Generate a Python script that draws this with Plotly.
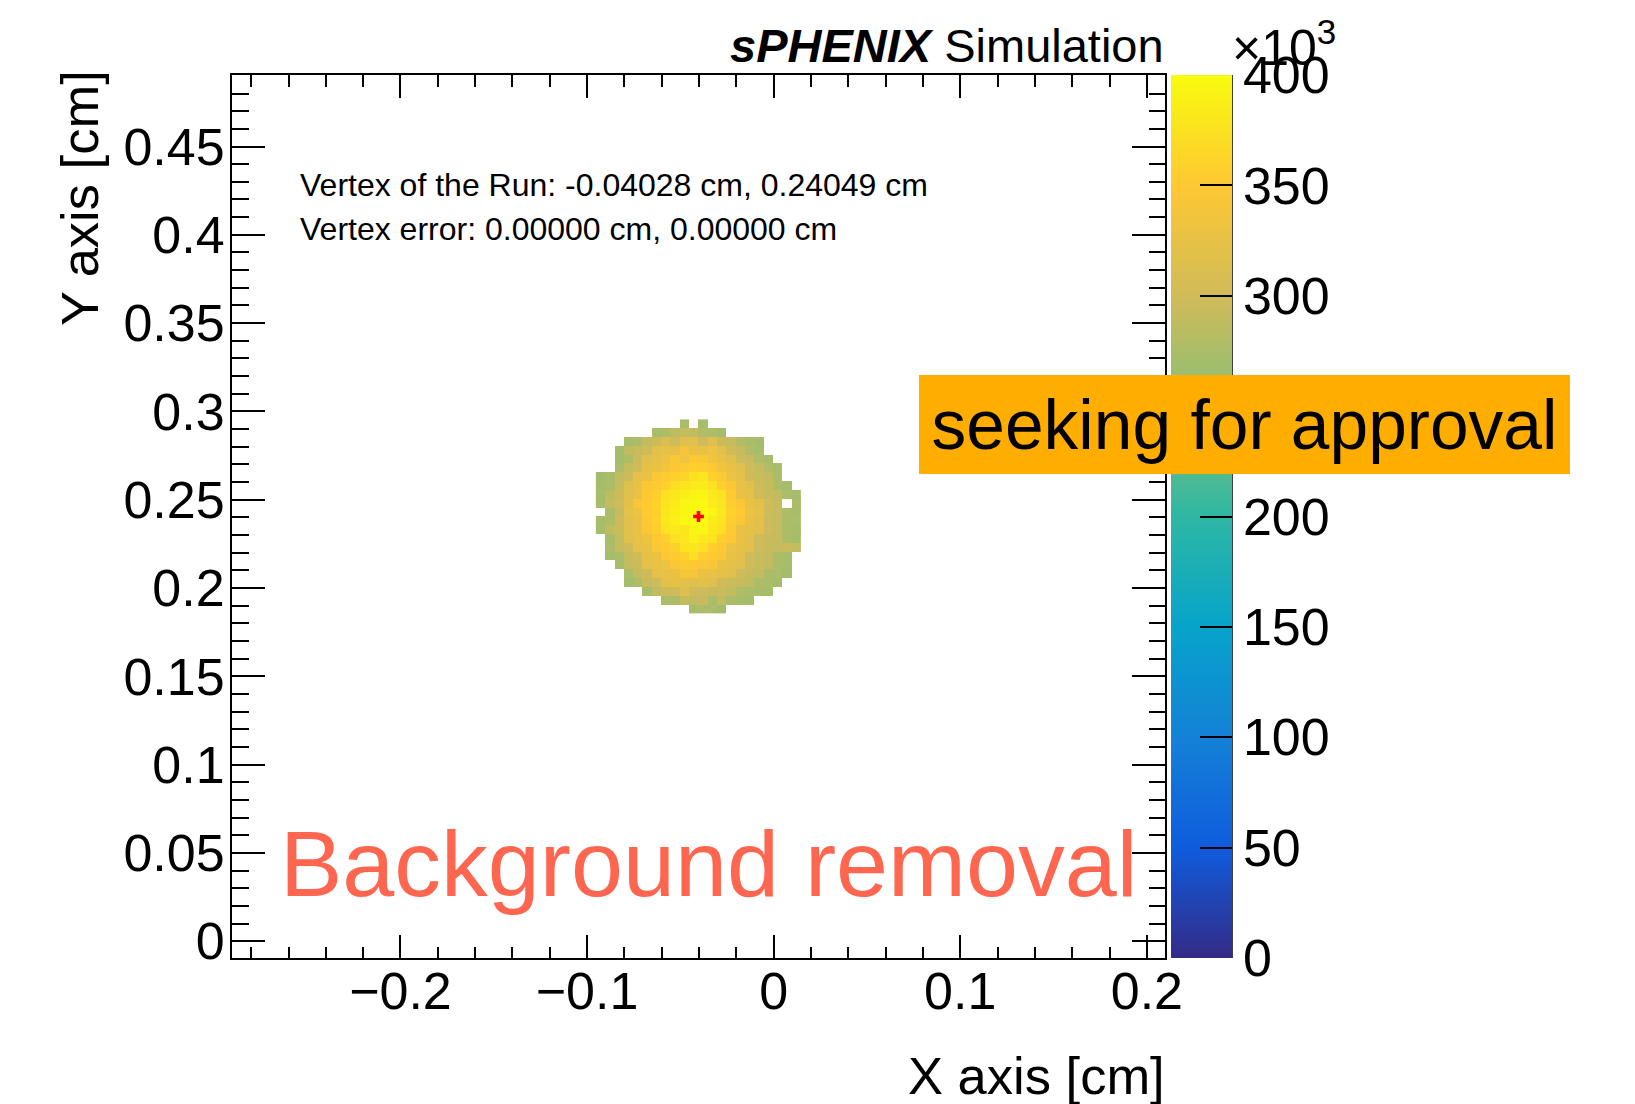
import plotly.graph_objects as go

# Reconstructed beam-spot vertex and histogram binning (cm)
VERTEX_X = -0.04028
VERTEX_Y = 0.24049
VERTEX_ERR_X = 0.0
VERTEX_ERR_Y = 0.0
HALF_WIDTH = 0.25
BIN = 0.005
FIRST_COL = -11   # bin offset of the first stored column from the vertex
FIRST_ROW = -11   # bin offset of the lowest stored row from the vertex

# Counts per bin in units of 10^3, rows listed from top to bottom; 0 = removed bin
counts_k = [
    [0, 0, 0, 0, 0, 0, 0, 0, 0, 274, 0, 271, 0, 0, 0, 0, 0, 0, 0, 0, 0, 0],
    [0, 0, 0, 0, 0, 0, 272, 276, 288, 292, 290, 279, 276, 270, 0, 0, 0, 0, 0, 0, 0, 0],
    [0, 0, 0, 270, 275, 290, 296, 312, 298, 315, 318, 300, 316, 297, 292, 278, 273, 270, 0, 0, 0, 0],
    [0, 0, 268, 288, 294, 298, 318, 322, 324, 340, 328, 326, 330, 320, 300, 294, 278, 272, 0, 0, 0, 0],
    [0, 0, 270, 276, 296, 318, 324, 330, 346, 334, 350, 346, 334, 328, 320, 298, 294, 278, 272, 0, 0, 0],
    [0, 0, 274, 292, 298, 322, 328, 336, 348, 352, 358, 356, 350, 334, 328, 318, 298, 292, 278, 271, 0, 0],
    [268, 272, 290, 296, 324, 328, 346, 352, 358, 362, 374, 378, 358, 350, 330, 322, 300, 296, 290, 274, 0, 0],
    [270, 276, 294, 316, 326, 348, 352, 358, 372, 378, 382, 384, 376, 356, 348, 326, 320, 298, 292, 276, 270, 0],
    [272, 288, 296, 318, 328, 350, 356, 374, 380, 386, 392, 395, 382, 376, 352, 328, 322, 300, 294, 290, 274, 270],
    [270, 290, 298, 320, 344, 352, 360, 376, 384, 394, 397, 398, 384, 378, 356, 348, 328, 320, 298, 292, 0, 272],
    [0, 274, 294, 322, 330, 352, 358, 378, 386, 396, 399, 400, 394, 382, 358, 350, 330, 322, 298, 294, 276, 272],
    [272, 276, 296, 320, 328, 350, 360, 380, 388, 397, 400, 399, 384, 378, 356, 348, 328, 320, 296, 292, 276, 274],
    [270, 290, 296, 318, 328, 348, 356, 376, 382, 378, 392, 394, 380, 374, 352, 328, 322, 318, 298, 292, 276, 272],
    [0, 272, 292, 318, 326, 332, 350, 356, 374, 380, 390, 382, 376, 356, 350, 328, 320, 298, 294, 292, 276, 270],
    [0, 274, 294, 298, 322, 328, 348, 352, 358, 376, 378, 374, 356, 350, 330, 324, 320, 298, 294, 292, 296, 292],
    [0, 270, 276, 294, 298, 324, 328, 348, 352, 358, 372, 356, 350, 346, 328, 320, 298, 294, 290, 276, 272, 0],
    [0, 0, 272, 292, 296, 322, 326, 330, 348, 352, 350, 348, 344, 328, 322, 318, 298, 294, 290, 276, 272, 0],
    [0, 0, 0, 274, 292, 296, 322, 326, 328, 344, 342, 328, 326, 322, 318, 298, 294, 290, 276, 274, 270, 0],
    [0, 0, 0, 270, 276, 294, 298, 318, 322, 320, 316, 320, 316, 300, 296, 294, 290, 276, 274, 270, 0, 0],
    [0, 0, 0, 0, 0, 272, 290, 296, 298, 316, 300, 298, 294, 296, 290, 278, 274, 272, 270, 0, 0, 0],
    [0, 0, 0, 0, 0, 0, 0, 274, 276, 292, 290, 294, 276, 290, 274, 272, 270, 0, 0, 0, 0, 0],
    [0, 0, 0, 0, 0, 0, 0, 0, 0, 0, 272, 276, 274, 270, 0, 0, 0, 0, 0, 0, 0, 0],
]

z_ticks_k = [0, 50, 100, 150, 200, 250, 300, 350, 400]
Z_MAX_K = 400

# ROOT kBird palette
bird_stops = [0.0, 0.125, 0.25, 0.375, 0.5, 0.625, 0.75, 0.875, 1.0]
bird_r = [0.2082, 0.0592, 0.0780, 0.0232, 0.1802, 0.5301, 0.8186, 0.9956, 0.9764]
bird_g = [0.1664, 0.3599, 0.5041, 0.6419, 0.7178, 0.7492, 0.7328, 0.7862, 0.9832]
bird_b = [0.5293, 0.8684, 0.8385, 0.7914, 0.6425, 0.4662, 0.3499, 0.1968, 0.0539]
bird = [
    [s, f"rgb({round(r * 255)},{round(g * 255)},{round(b * 255)})"]
    for s, r, g, b in zip(bird_stops, bird_r, bird_g, bird_b)
]

FONT = "Liberation Sans, Arial, Helvetica, sans-serif"
TICK_SIZE = 52

# canvas geometry (pixels)
W_PX, H_PX = 1635, 1104
L, R, T, B = 232, 470, 75, 146
PW = W_PX - L - R
PH = H_PX - T - B


def fx(px):
    return (px - L) / PW


def fy(py):
    return (H_PX - B - py) / PH


z_rows = [[v * 1000 if v > 0 else None for v in row] for row in reversed(counts_k)]

fig = go.Figure()

fig.add_trace(go.Heatmap(
    z=z_rows,
    x0=VERTEX_X + (FIRST_COL + 0.5) * BIN, dx=BIN,
    y0=VERTEX_Y + (FIRST_ROW + 0.5) * BIN, dy=BIN,
    zmin=0, zmax=Z_MAX_K * 1000,
    colorscale=bird,
    hoverongaps=False,
    colorbar=dict(
        x=fx(1171), xanchor="left", xpad=0,
        y=0.5, yanchor="middle", len=1, lenmode="fraction", ypad=0,
        thickness=61, thicknessmode="pixels",
        outlinewidth=0,
        ticks="inside", ticklen=32, tickwidth=1.5, tickcolor="black",
        tickvals=[v * 1000 for v in z_ticks_k],
        ticktext=[str(v) for v in z_ticks_k],
        tickfont=dict(family=FONT, size=TICK_SIZE, color="black"),
    ),
))

fig.add_trace(go.Scatter(
    x=[VERTEX_X], y=[VERTEX_Y],
    mode="markers",
    marker=dict(symbol="cross", size=9, color="red"),
    showlegend=False,
))

axis_common = dict(
    showline=True, linecolor="black", linewidth=2, mirror="ticks",
    showgrid=False, zeroline=False,
    ticks="inside", tickcolor="black", tickwidth=1.5,
    tickfont=dict(family=FONT, size=TICK_SIZE, color="black"),
)

fig.update_xaxes(
    range=[VERTEX_X - HALF_WIDTH, VERTEX_X + HALF_WIDTH],
    tick0=0, dtick=0.1, ticklen=23, ticklabelstandoff=-13,
    minor=dict(dtick=0.02, ticks="inside", ticklen=11.5, tickwidth=1.5,
               tickcolor="black", showgrid=False),
    **axis_common,
)
fig.update_yaxes(
    range=[VERTEX_Y - HALF_WIDTH, VERTEX_Y + HALF_WIDTH],
    tick0=0, dtick=0.05, ticklen=33, ticklabelstandoff=-5,
    minor=dict(dtick=0.01, ticks="inside", ticklen=16.5, tickwidth=1.5,
               tickcolor="black", showgrid=False),
    **axis_common,
)

annotations = [
    dict(text="<b><i>sPHENIX</i></b> Simulation", x=fx(1166), y=fy(46),
         xanchor="right", yanchor="middle", font=dict(size=47)),
    dict(text=f"Vertex of the Run: {VERTEX_X:.5f} cm, {VERTEX_Y:.5f} cm",
         x=fx(298), y=fy(185), xanchor="left", yanchor="middle", font=dict(size=32)),
    dict(text=f"Vertex error: {VERTEX_ERR_X:.5f} cm, {VERTEX_ERR_Y:.5f} cm",
         x=fx(298), y=fy(229), xanchor="left", yanchor="middle", font=dict(size=32)),
    dict(text="Background removal", x=fx(278), y=fy(863),
         xanchor="left", yanchor="middle", font=dict(size=93.5, color="#ff6650")),
    dict(text="X axis [cm]", x=fx(1167), y=fy(1075),
         xanchor="right", yanchor="middle", font=dict(size=52.5)),
    dict(text="Y axis [cm]", x=fx(80), y=fy(68), textangle=-90,
         xanchor="center", yanchor="top", font=dict(size=52.5)),
    dict(text="×10<sup>3</sup>", x=fx(1230), y=fy(44),
         xanchor="left", yanchor="middle", font=dict(size=50)),
    # approval banner, drawn over the palette
    dict(text="seeking for approval", x=fx(1244.5), y=fy(424.5),
         xanchor="center", yanchor="middle", width=651, height=99,
         align="center", valign="middle", bgcolor="#ffae00",
         borderpad=0, borderwidth=0, font=dict(size=69.5)),
]
for a in annotations:
    a.setdefault("showarrow", False)
    a["xref"] = "paper"
    a["yref"] = "paper"
    a["font"] = dict(family=FONT, color=a["font"].get("color", "black"), size=a["font"]["size"])

fig.update_layout(
    width=W_PX, height=H_PX, autosize=False,
    margin=dict(l=L, r=R, t=T, b=B, pad=0),
    paper_bgcolor="white", plot_bgcolor="white",
    font=dict(family=FONT, color="black"),
    showlegend=False,
    annotations=annotations,
    shapes=[
        # right edge of the palette axis
        dict(type="line", xref="paper", yref="paper",
             x0=fx(1232), x1=fx(1232), y0=0, y1=1,
             line=dict(color="black", width=1.5), layer="above"),
    ],
)

fig.write_html("out.html")
